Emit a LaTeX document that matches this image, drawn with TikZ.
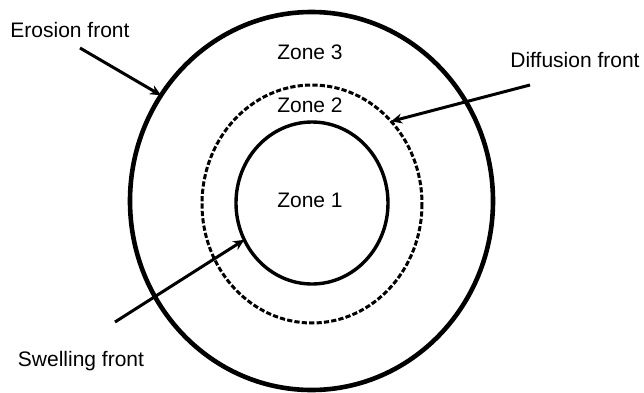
\documentclass[tikz,border=0pt]{standalone}
\usepackage{fontspec}
\setmainfont{Liberation Sans}
\usetikzlibrary{arrows.meta}

\begin{document}
\begin{tikzpicture}[
		x=0.5pt, y=-0.5pt,
		font=\fontsize{10.5}{12}\selectfont,
		erosion/.style={line width=2.3pt},
		swelling/.style={line width=1.7pt},
		diffusion/.style={line width=1.5pt, dash pattern=on 2.6pt off 1.1pt},
		arrow/.style={line width=1.5pt, -{Stealth[length=5.5pt, width=5pt]}}
		]
	\useasboundingbox (0,0) rectangle (644,392);
	
	\coordinate (O) at (311.5,201);
	\coordinate (D) at (312,204);
	\coordinate (I) at (312,203);
	
	\draw[erosion] (O) ellipse [x radius=181.5, y radius=189];
	\draw[diffusion] (D) ellipse [x radius=110, y radius=119];
	\draw[swelling] (I) ellipse [x radius=76, y radius=81];
	
	\node (Z3) at (310,52) {Zone 3};
	\node (Z2) at (310,105) {Zone 2};
	\node (Z1) at (310,200) {Zone 1};
	
	\node (E) at (70,30) {Erosion front};
	\node (F) at (575,60) {Diffusion front};
	\node (S) at (81,361) {Swelling front};
	
	\coordinate (Et) at (80,48);
	\coordinate (Ft) at (530,85);
	\coordinate (St) at (115,322);
	\path (O) ++(214:181.5 and 189) coordinate (Eh);
	\path (D) ++(316:110 and 119) coordinate (Fh);
	\path (I) ++(153:76 and 81) coordinate (Sh);
	
	\draw[arrow] (Et) -- (Eh);
	\draw[arrow] (Ft) -- (Fh);
	\draw[arrow] (St) -- (Sh);
\end{tikzpicture}
\end{document}
